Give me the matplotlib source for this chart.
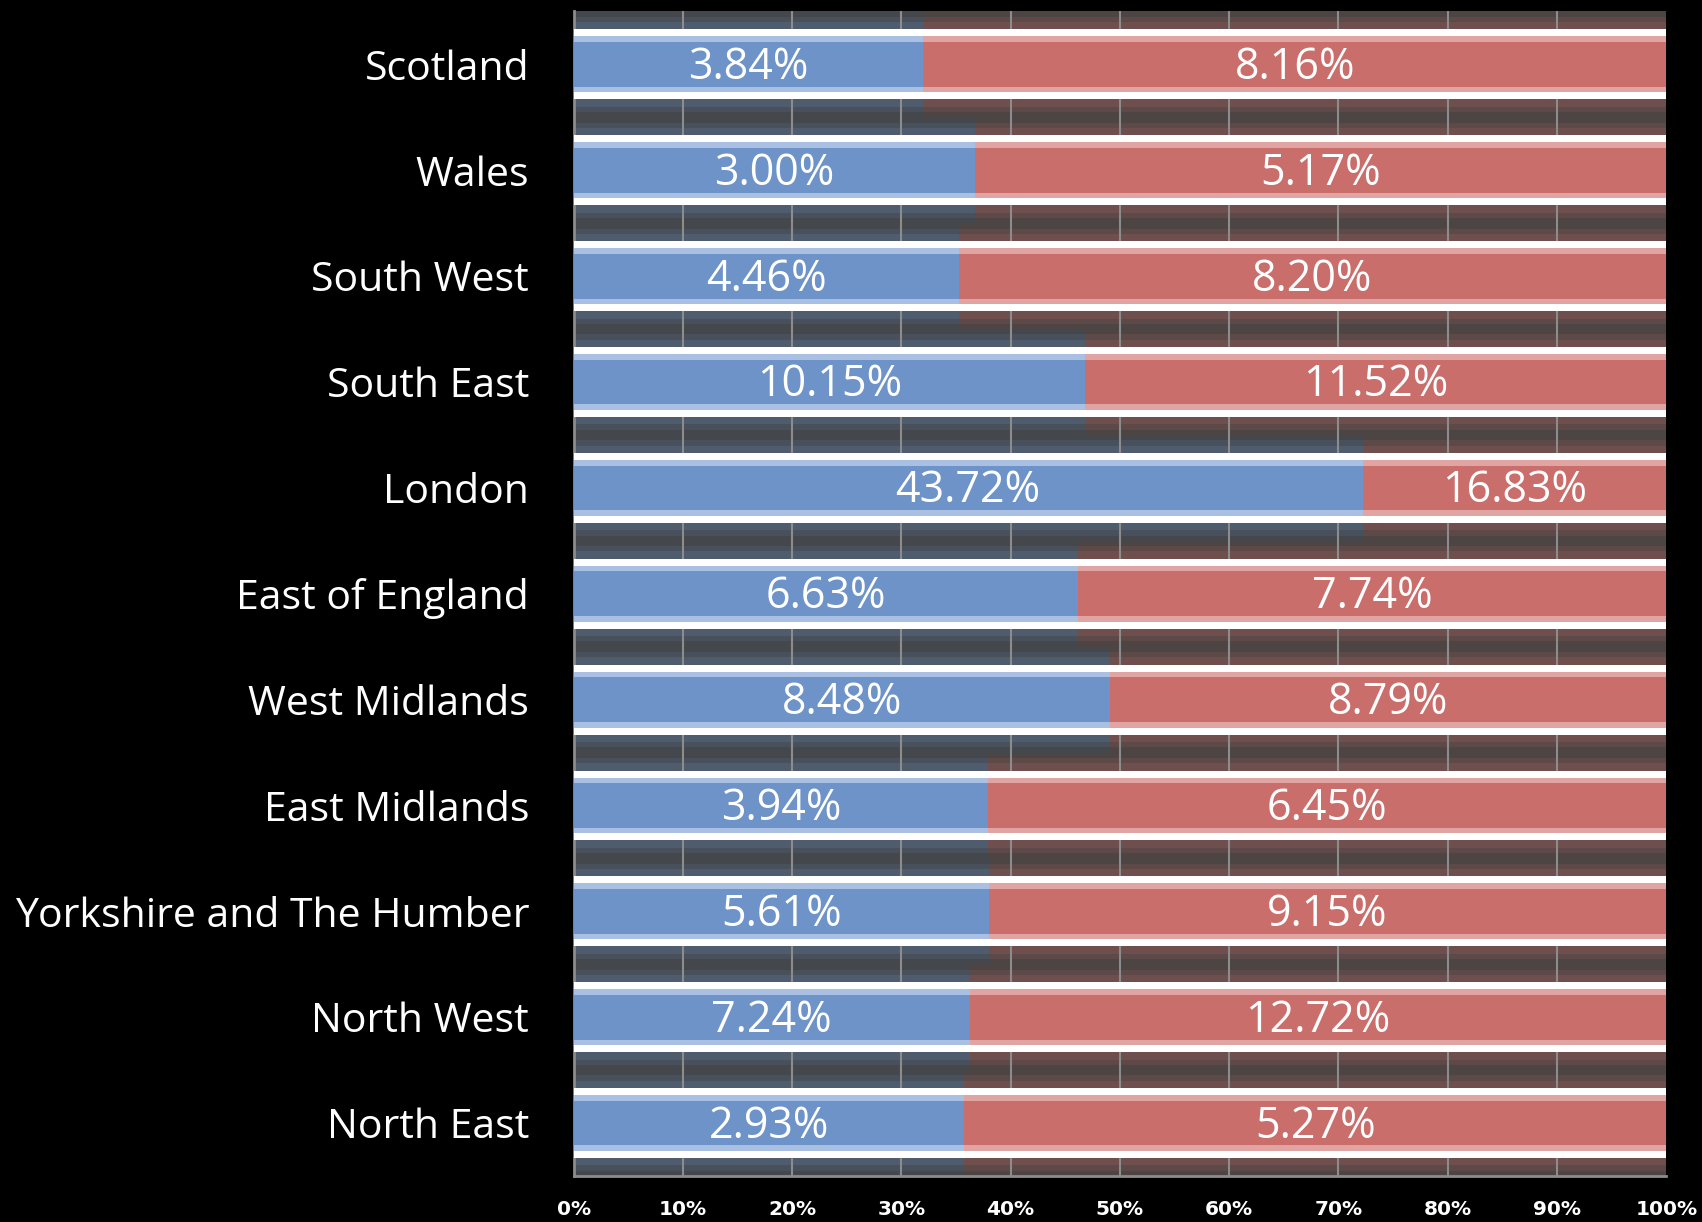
import matplotlib.pyplot as plt
import numpy as np

regions = ["Scotland", "Wales", "South West", "South East", "London",
           "East of England", "West Midlands", "East Midlands",
           "Yorkshire and The Humber", "North West", "North East"]
blue_vals = [3.84, 3.00, 4.46, 10.15, 43.72, 6.63, 8.48, 3.94, 5.61, 7.24, 2.93]
red_vals = [8.16, 5.17, 8.20, 11.52, 16.83, 7.74, 8.79, 6.45, 9.15, 12.72, 5.27]
xticks = [0, 10, 20, 30, 40, 50, 60, 70, 80, 90, 100]

BLUE = "#6d93c8"
RED = "#c96e6b"

blue = np.array(blue_vals)
red = np.array(red_vals)
total = blue + red
bshare = blue / total * 100
rshare = red / total * 100
y = np.arange(len(regions))

fig = plt.figure(figsize=(17.02, 12.22), dpi=100, facecolor="black")
ax = fig.add_axes([0.337, 0.0376, 0.642, 0.953])
ax.set_facecolor("#404040")

# soft glow around bars
for h, a in [(1.0, 0.1), (0.9, 0.12), (0.8, 0.18)]:
    ax.barh(y, bshare, height=h, color=BLUE, alpha=a, linewidth=0, zorder=1)
    ax.barh(y, rshare, left=bshare, height=h, color=RED, alpha=a, linewidth=0, zorder=1)

for t in xticks[1:-1]:
    ax.axvline(t, color="#8c8c8c", lw=1.5, zorder=2)

bh = 0.66
# white bevel bands then coloured face
ax.barh(y, bshare, height=bh, color="white", linewidth=0, zorder=3)
ax.barh(y, rshare, left=bshare, height=bh, color="white", linewidth=0, zorder=3)
ax.barh(y, bshare, height=bh * 0.8, color="#a9c0e2", linewidth=0, zorder=4)
ax.barh(y, rshare, left=bshare, height=bh * 0.8, color="#e0a4a2", linewidth=0, zorder=4)
ax.barh(y, bshare, height=bh * 0.64, color=BLUE, linewidth=0, zorder=5)
ax.barh(y, rshare, left=bshare, height=bh * 0.64, color=RED, linewidth=0, zorder=5)

for i in range(len(regions)):
    ax.text(bshare[i] / 2, y[i] + 0.03, f"{blue[i]:.2f}%", ha="center", va="center",
            color="white", fontsize=31, family="Open Sans", zorder=6)
    ax.text(bshare[i] + rshare[i] / 2, y[i] + 0.03, f"{red[i]:.2f}%", ha="center", va="center",
            color="white", fontsize=31, family="Open Sans", zorder=6)

ax.set_xlim(0, 100)
ax.set_ylim(len(regions) - 0.5, -0.5)
ax.set_yticks(y)
ax.set_yticklabels(regions, fontsize=29.5, color="white", family="Open Sans")
ax.tick_params(axis="y", length=0, pad=32)
ax.set_xticks(xticks)
ax.set_xticklabels([f"{t}%" for t in xticks], fontsize=14.5, color="white",
                   family="DejaVu Sans", fontweight="bold")
ax.tick_params(axis="x", length=0, pad=17)

for s in ["top", "right"]:
    ax.spines[s].set_visible(False)
for s in ["left", "bottom"]:
    ax.spines[s].set_color("#8c8c8c")
    ax.spines[s].set_linewidth(2)

fig.savefig("out.png", dpi=100, facecolor="black")
